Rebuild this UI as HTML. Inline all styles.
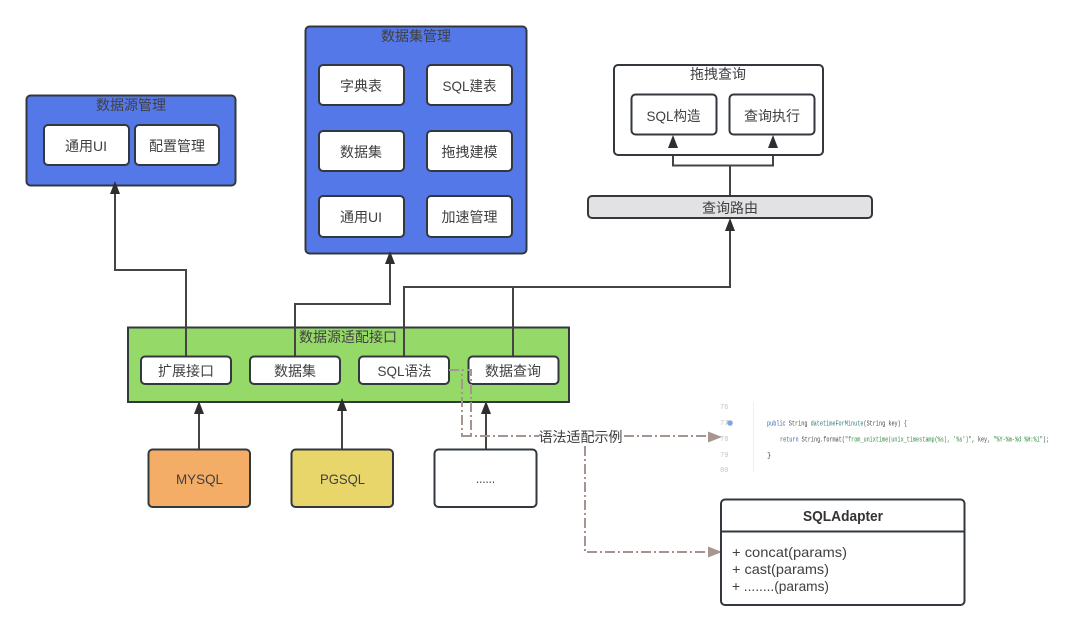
<!DOCTYPE html>
<html><head><meta charset="utf-8">
<style>
html,body{margin:0;padding:0;background:#fff}
svg{display:block;filter:blur(.3px)}
text{font-family:"Liberation Sans","Noto Sans CJK SC",sans-serif;font-size:14px;fill:#404040;text-anchor:middle;dominant-baseline:central}
.b{stroke:#33383e;stroke-width:2}
.w{fill:#fff}
.l{fill:none;stroke:#444;stroke-width:2}
.a{fill:#2e2e2e}
.d{fill:none;stroke:#a5958f;stroke-width:2;stroke-dasharray:10 3 2 3}
.p{fill:#a8958f}
.c{font-family:"Liberation Mono","Noto Sans CJK SC",monospace;font-size:7px;text-anchor:start;dominant-baseline:auto}
</style></head><body>
<svg width="1080" height="632" viewBox="0 0 1080 632" xmlns="http://www.w3.org/2000/svg">
<rect width="1080" height="632" fill="#fff"/>

<!-- connectors -->
<path class="l" d="M186 356V270H115V192"/>
<path class="l" d="M295 356V304H390V262"/>
<path class="l" d="M404 356V287H730V228"/>
<path class="l" d="M513 356V287"/>
<path class="l" d="M730 196V165.500M673 145V165.500H773V145"/>
<path class="l" d="M199 449V412M342 449V408M486 449V412"/>

<!-- data source mgmt -->
<rect class="b" x="26.500" y="95.500" width="209" height="90" rx="4" fill="#5578E8"/>
<text x="131" y="105">数据源管理</text>
<rect class="b w" x="44" y="125" width="85" height="40" rx="4"/><text x="86" y="146">通用UI</text>
<rect class="b w" x="135" y="125" width="84" height="40" rx="4"/><text x="177" y="146">配置管理</text>

<!-- dataset mgmt -->
<rect class="b" x="305.500" y="26.500" width="221" height="227" rx="4" fill="#5578E8"/>
<text x="416" y="36">数据集管理</text>
<rect class="b w" x="319" y="65" width="85" height="40" rx="4"/><text x="361" y="86">字典表</text>
<rect class="b w" x="427" y="65" width="85" height="40" rx="4"/><text x="469.500" y="86" textLength="54" lengthAdjust="spacingAndGlyphs">SQL建表</text>
<rect class="b w" x="319" y="131" width="85" height="40" rx="4"/><text x="361" y="152">数据集</text>
<rect class="b w" x="427" y="131" width="85" height="40" rx="4"/><text x="469.500" y="152">拖拽建模</text>
<rect class="b w" x="319" y="196" width="85" height="41" rx="4"/><text x="361" y="217">通用UI</text>
<rect class="b w" x="427" y="196" width="85" height="41" rx="4"/><text x="469.500" y="217">加速管理</text>

<!-- drag query -->
<rect class="b w" x="614" y="65" width="209" height="90" rx="4"/>
<text x="718" y="74">拖拽查询</text>
<rect class="b w" x="631.500" y="94.500" width="85" height="40" rx="4"/><text x="673.500" y="116" textLength="54" lengthAdjust="spacingAndGlyphs">SQL构造</text>
<rect class="b w" x="729.500" y="94.500" width="85" height="40" rx="4"/><text x="772" y="116">查询执行</text>

<rect class="b" x="588" y="196" width="284" height="22" rx="4" fill="#e2e2e2"/>
<text x="730" y="208">查询路由</text>

<!-- green adapter -->
<rect class="b" x="128" y="327.500" width="441" height="74.500" fill="#95DA69"/>
<path class="l" d="M186 327V356M295 327V356M404 327V356M513 327V356"/>
<text x="348" y="337">数据源适配接口</text>
<rect class="b w" x="141" y="356.500" width="90" height="27.500" rx="4"/><text x="186" y="371">扩展接口</text>
<rect class="b w" x="250" y="356.500" width="90" height="27.500" rx="4"/><text x="295" y="371">数据集</text>
<rect class="b w" x="359" y="356.500" width="90" height="27.500" rx="4"/><text x="404.500" y="371" textLength="54" lengthAdjust="spacingAndGlyphs">SQL语法</text>
<rect class="b w" x="468.500" y="356.500" width="90" height="27.500" rx="4"/><text x="513" y="371">数据查询</text>

<!-- sources -->
<rect class="b" x="148.500" y="449.500" width="101.500" height="57.500" rx="4" fill="#F4AD66"/><text x="199.500" y="479" textLength="47" lengthAdjust="spacingAndGlyphs">MYSQL</text>
<rect class="b" x="291.500" y="449.500" width="101.500" height="57.500" rx="4" fill="#E9D66B"/><text x="342.500" y="479" textLength="45" lengthAdjust="spacingAndGlyphs">PGSQL</text>
<rect class="b w" x="434.500" y="449.500" width="102" height="57.500" rx="4"/><text x="485.500" y="478" textLength="19" lengthAdjust="spacingAndGlyphs">......</text>

<!-- arrowheads -->
<g class="a">
<polygon points="115,181 110,194 120,194"/>
<polygon points="390,251 385,264 395,264"/>
<polygon points="730,218 725,231 735,231"/>
<polygon points="673,135 668,148 678,148"/>
<polygon points="773,135 768,148 778,148"/>
<polygon points="199,401 194,414 204,414"/>
<polygon points="342,398 337,411 347,411"/>
<polygon points="486,401 481,414 491,414"/>
</g>

<!-- dashed -->
<path class="d" d="M449 370H471V436H462V370"/>
<path class="d" d="M462 436H710"/>
<path class="d" d="M585 446V552H710"/>
<polygon class="p" points="722,437 708,431.500 708,442.500"/>
<polygon class="p" points="722,552 708,546.500 708,557.500"/>
<rect x="539" y="429" width="83" height="16" fill="#fff" opacity="0.7"/>
<text x="580.500" y="437">语法适配示例</text>

<!-- code snippet -->
<line x1="753.500" y1="402" x2="753.500" y2="472" stroke="#f0f0f0"/>
<text class="c" x="720" y="409" style="fill:#c5c5cc">76</text>
<text class="c" x="720" y="425" style="fill:#c5c5cc">77</text>
<circle cx="730" cy="423" r="2.800" fill="#7ea6e0"/>
<text class="c" x="720" y="441" style="fill:#c5c5cc">78</text>
<text class="c" x="720" y="457" style="fill:#c5c5cc">79</text>
<text class="c" x="720" y="472" style="fill:#c5c5cc">80</text>
<text class="c" x="767" y="425.500" textLength="140" lengthAdjust="spacingAndGlyphs"><tspan style="fill:#2f5fb0">public</tspan> <tspan style="fill:#444">String</tspan> <tspan style="fill:#2a7a7a">datetimeForMinute</tspan><tspan style="fill:#444">(String key) {</tspan></text>
<text class="c" x="780" y="441.500" textLength="269" lengthAdjust="spacingAndGlyphs"><tspan style="fill:#2f5fb0">return</tspan> <tspan style="fill:#444">String.format(</tspan><tspan style="fill:#2f8a3c">"from_unixtime(unix_timestamp(%s), '%s')"</tspan><tspan style="fill:#444">, key, </tspan><tspan style="fill:#2f8a3c">"%Y-%m-%d %H:%i"</tspan><tspan style="fill:#444">);</tspan></text>
<text class="c" x="767" y="457.500" style="fill:#444">}</text>

<!-- UML -->
<rect class="b w" x="721" y="499.500" width="243.500" height="105.500" rx="4"/>
<line class="b" x1="721" y1="531.500" x2="964.500" y2="531.500"/>
<text x="843" y="516.500" textLength="80" lengthAdjust="spacingAndGlyphs" style="font-size:15px;font-weight:bold;fill:#333">SQLAdapter</text>
<text x="732" y="552" textLength="115" lengthAdjust="spacingAndGlyphs" style="text-anchor:start">+ concat(params)</text>
<text x="732" y="569" textLength="97" lengthAdjust="spacingAndGlyphs" style="text-anchor:start">+ cast(params)</text>
<text x="732" y="586" textLength="97" lengthAdjust="spacingAndGlyphs" style="text-anchor:start">+ ........(params)</text>
</svg>
</body></html>
